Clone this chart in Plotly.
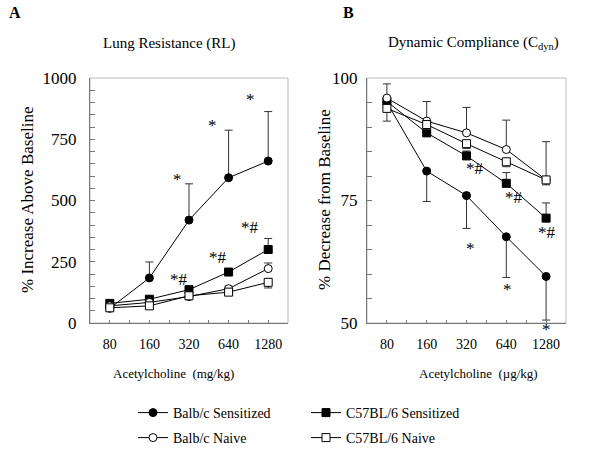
import plotly.graph_objects as go

doses = ["80", "160", "320", "640", "1280"]
groups = ["Balb/c Sensitized", "C57BL/6 Sensitized", "Balb/c Naive", "C57BL/6 Naive"]

# Panel A: Lung resistance, % increase above baseline
a_balb_sens = [60, 184, 420, 593, 661]
a_balb_sens_err = [0, 65, 148, 194, 202]
a_c57_sens = [80, 97, 136, 208, 300]
a_c57_sens_err = [6, 8, 8, 10, 45]
a_balb_naive = [70, 84, 108, 140, 222]
a_balb_naive_err = [6, 6, 6, 10, 23]
a_c57_naive = [62, 70, 111, 126, 166]
a_c57_naive_err = [6, 6, 6, 8, 23]

# Panel B: Dynamic compliance, % decrease from baseline
b_balb_sens = [95.0, 81.0, 76.0, 67.6, 59.5]
b_balb_sens_err = [1.0, 6.2, 6.7, 8.3, 8.9]
b_c57_sens = [95.2, 88.8, 84.1, 78.5, 71.4]
b_c57_sens_err = [1.0, 1.0, 1.0, 2.2, 3.1]
b_balb_naive = [95.9, 91.2, 88.8, 85.4, 79.2]
b_balb_naive_err = [2.9, 4.0, 5.2, 6.0, 7.8]
b_c57_naive = [93.8, 90.5, 86.6, 82.9, 79.2]
b_c57_naive_err = [2.6, 1.0, 1.0, 1.0, 1.0]

FONT = "Liberation Serif"
W, H = 600, 450
xi = list(range(len(doses)))


def py(ypx):
    return 1 - ypx / H


styles = {
    "Balb/c Sensitized": dict(symbol="circle", color="black", legend="legend"),
    "C57BL/6 Sensitized": dict(symbol="square", color="black", legend="legend"),
    "Balb/c Naive": dict(symbol="circle", color="white", legend="legend2"),
    "C57BL/6 Naive": dict(symbol="square", color="white", legend="legend2"),
}

a_data = {
    "Balb/c Sensitized": (a_balb_sens, a_balb_sens_err, "up"),
    "C57BL/6 Sensitized": (a_c57_sens, a_c57_sens_err, "up"),
    "Balb/c Naive": (a_balb_naive, a_balb_naive_err, "up"),
    "C57BL/6 Naive": (a_c57_naive, a_c57_naive_err, "down"),
}
b_data = {
    "Balb/c Sensitized": (b_balb_sens, b_balb_sens_err, "down"),
    "C57BL/6 Sensitized": (b_c57_sens, b_c57_sens_err, "up"),
    "Balb/c Naive": (b_balb_naive, b_balb_naive_err, "up"),
    "C57BL/6 Naive": (b_c57_naive, b_c57_naive_err, "down"),
}

fig = go.Figure()


def add(panel, xa, ya, show):
    for g in groups:
        y, e, d = panel[g]
        st = styles[g]
        zero = [0] * len(e)
        err = dict(type="data", symmetric=False,
                   array=e if d == "up" else zero,
                   arrayminus=zero if d == "up" else e,
                   color="#333", thickness=1, width=4)
        fig.add_trace(go.Scatter(
            x=xi, y=y, mode="lines+markers", name=g, legendgroup=g,
            legend=st["legend"], showlegend=show,
            line=dict(color="black", width=1),
            marker=dict(symbol=st["symbol"], size=8, color=st["color"],
                        line=dict(color="black", width=1)),
            error_y=err, xaxis=xa, yaxis=ya, cliponaxis=False))


add(a_data, "x", "y", True)
add(b_data, "x2", "y2", False)

ydom = [py(323), py(78)]
ax_common = dict(range=[-0.5, 4.5], tickvals=xi, ticktext=doses, ticks="inside",
                 ticklen=3, tickcolor="#777", showline=True, linecolor="#777",
                 linewidth=1, showgrid=False, zeroline=False,
                 tickfont=dict(family=FONT, size=14, color="black"),
                 minor=dict(dtick=0.5, tick0=-0.5, ticks="inside", ticklen=3, tickcolor="#777"),
                 ticklabelstandoff=8)
fig.update_layout(
    width=W, height=H, margin=dict(l=0, r=0, t=0, b=0, autoexpand=False),
    plot_bgcolor="white", paper_bgcolor="white",
    font=dict(family=FONT, color="black"),
    xaxis=dict(domain=[90 / W, 288 / W], anchor="y", **ax_common),
    xaxis2=dict(domain=[367 / W, 566 / W], anchor="y2", **ax_common),
    yaxis=dict(domain=ydom, anchor="x", range=[0, 1000],
               tickvals=[0, 250, 500, 750, 1000], ticks="inside", ticklen=5,
               tickcolor="#777", showline=True, linecolor="#777", showgrid=False,
               zeroline=False, tickfont=dict(family=FONT, size=17, color="black"),
               minor=dict(dtick=50, ticks="inside", ticklen=5, tickcolor="#777"),
               ticklabelstandoff=9),
    yaxis2=dict(domain=ydom, anchor="x2", range=[50, 100],
                tickvals=[50, 75, 100], ticks="inside", ticklen=5,
                tickcolor="#777", showline=True, linecolor="#777", showgrid=False,
                zeroline=False, tickfont=dict(family=FONT, size=17, color="black"),
                minor=dict(dtick=5, ticks="inside", ticklen=5, tickcolor="#777"),
                ticklabelstandoff=5),
    legend=dict(orientation="h", x=133 / W, y=py(413), xanchor="left", yanchor="middle",
                font=dict(family=FONT, size=14, color="black"), entrywidth=128,
                bgcolor="rgba(0,0,0,0)", itemwidth=30),
    legend2=dict(orientation="h", x=133 / W, y=py(438), xanchor="left", yanchor="middle",
                 font=dict(family=FONT, size=14, color="black"), entrywidth=128,
                 bgcolor="rgba(0,0,0,0)", itemwidth=30),
)

# light frame around each plot
for xr, yr in (("x", "y"), ("x2", "y2")):
    fig.add_shape(type="rect", xref=xr + " domain", yref=yr + " domain",
                  x0=0, x1=1, y0=0, y1=1, line=dict(color="#bbb", width=1),
                  layer="below")

ann = []


def txt(text, x, y, size, xref="paper", yref="paper", **kw):
    kw.setdefault("xanchor", "center")
    kw.setdefault("yanchor", "middle")
    ann.append(dict(text=text, x=x, y=y, xref=xref, yref=yref, showarrow=False,
                    font=dict(family=FONT, size=size, color="black"), **kw))


txt("<b>A</b>", 15 / W, py(13), 16)
txt("<b>B</b>", 348 / W, py(13), 16)
txt("Lung Resistance (RL)", 169 / W, py(43), 15)
txt("Dynamic Compliance (C<sub>dyn</sub>)", 473 / W, py(43), 15)
txt("% Increase Above Baseline", 27 / W, py(200), 17, textangle=-90)
txt("% Decrease from Baseline", 324 / W, py(200), 17, textangle=-90)
txt("Acetylcholine  (mg/kg)", 173 / W, py(373), 13)
txt("Acetylcholine  (\u00b5g/kg)", 478 / W, py(373), 13)

# significance marks (x in dose index units, y in data units)
for x, y in [(1.71, 601), (2.59, 823), (3.55, 930)]:
    txt("*", x, y, 17, "x", "y", yshift=-4)
for x, y in [(1.74, 189), (2.72, 280), (3.55, 403)]:
    txt("*#", x, y, 17, "x", "y", yshift=-3)
for x, y in [(2.10, 66.1), (3.04, 57.6)]:
    txt("*", x, y, 17, "x2", "y2", yshift=-4)
txt("*", 4.0, 50, 17, "x2", "y2", yanchor="top", yshift=5)
for x, y in [(2.22, 82.1), (3.19, 76.3), (4.02, 69.1)]:
    txt("*#", x, y, 17, "x2", "y2", yshift=-3)

fig.update_layout(annotations=ann)
fig.write_html("out.html", config={"displayModeBar": False},
               post_script="document.body.style.margin='0px';document.body.style.overflow='hidden';")
